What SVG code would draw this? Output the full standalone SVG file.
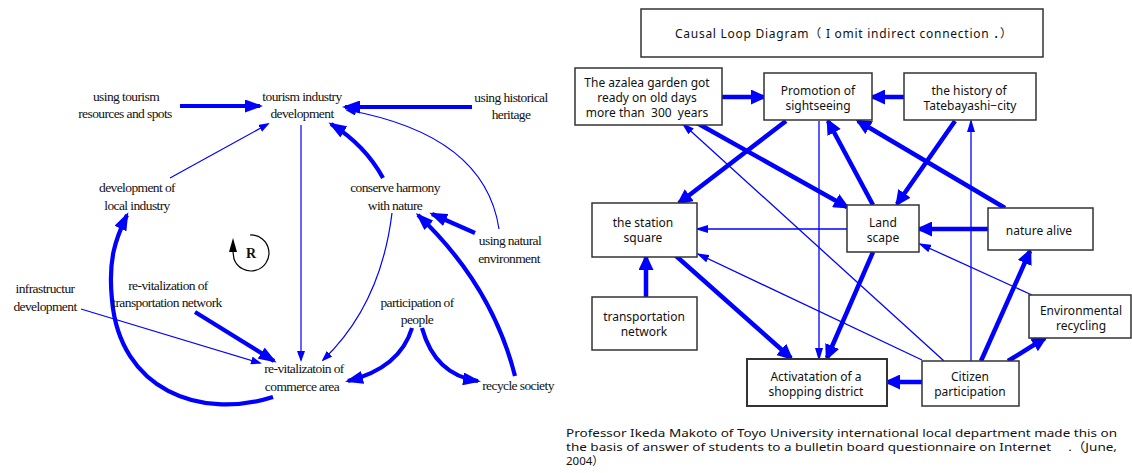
<svg xmlns="http://www.w3.org/2000/svg" width="1132" height="473" viewBox="0 0 1132 473">
<style>
.lt{font-family:"Liberation Serif","Times New Roman",serif;font-size:13.5px;letter-spacing:-0.6px;fill:#111;text-anchor:middle}
.rt{font-family:"Noto Sans","Noto Sans CJK JP",sans-serif;font-size:12px;fill:#111;text-anchor:middle}
.ft{font-family:"Noto Sans","Noto Sans CJK JP",sans-serif;font-size:11.5px;fill:#111}
.box{fill:#fff;stroke:#333;stroke-width:1.5}
.lk{fill:none;stroke:#0000ff;stroke-width:4.2}
.ln{fill:none;stroke:#0000ff;stroke-width:1.2}
.rk{fill:none;stroke:#0000ff;stroke-width:4.5}
.rn{fill:none;stroke:#0000ff;stroke-width:1.3}
</style>
<defs>
<marker id="lK" markerUnits="userSpaceOnUse" markerWidth="18" markerHeight="13" refX="15" refY="6.5" orient="auto"><polygon points="0,0 18,6.5 0,13" fill="#0000ff"/></marker>
<marker id="lN" markerUnits="userSpaceOnUse" markerWidth="11" markerHeight="8" refX="9" refY="4" orient="auto"><polygon points="0,0 11,4 0,8" fill="#0000ff"/></marker>
<marker id="rK" markerUnits="userSpaceOnUse" markerWidth="16" markerHeight="15" refX="13" refY="7.5" orient="auto"><polygon points="0,0 16,7.5 0,15" fill="#0000ff"/></marker>
<marker id="rN" markerUnits="userSpaceOnUse" markerWidth="13" markerHeight="8" refX="11" refY="4" orient="auto"><polygon points="0,0 13,4 0,8" fill="#0000ff"/></marker>
</defs>

<!-- LEFT DIAGRAM connectors -->
<g id="left-connectors">
<path class="lk" d="M180,106 L260,106" marker-end="url(#lK)"/>
<path class="ln" d="M170,178 L268,124" marker-end="url(#lN)"/>
<path class="lk" d="M472,107 L345,107" marker-end="url(#lK)"/>
<path class="ln" d="M499,229 Q485,135 347,110" marker-end="url(#lN)"/>
<path class="lk" d="M383,178 Q365,145 331,124" marker-end="url(#lK)"/>
<path class="ln" d="M301,125 L301,360" marker-end="url(#lN)"/>
<path class="ln" d="M392,213 C385,270 365,320 323,360" marker-end="url(#lN)"/>
<path class="lk" d="M475,233 L432,214" marker-end="url(#lK)"/>
<path class="lk" d="M515,376 Q492,285 418,215" marker-end="url(#lK)"/>
<path class="lk" d="M412,328 Q400,368 348,381" marker-end="url(#lK)"/>
<path class="lk" d="M422,328 Q435,375 478,381" marker-end="url(#lK)"/>
<path class="lk" d="M195,312 L274,361" marker-end="url(#lK)"/>
<path class="ln" d="M81,309 L260,363" marker-end="url(#lN)"/>
<path class="lk" d="M273,397 C200,420 120,390 112,300 C108,260 115,240 127,215" marker-end="url(#lK)"/>
</g>

<!-- LEFT DIAGRAM nodes -->
<g id="l-using-tourism"><text class="lt" x="126" y="101">using tourism</text><text class="lt" x="125" y="118">resources and spots</text></g>
<g id="l-tourism-industry"><text class="lt" x="302" y="101">tourism industry</text><text class="lt" x="302" y="118">development</text></g>
<g id="l-using-historical"><text class="lt" x="511" y="102">using historical</text><text class="lt" x="511" y="119">heritage</text></g>
<g id="l-local-industry"><text class="lt" x="137" y="192">development of</text><text class="lt" x="137" y="210">local industry</text></g>
<g id="l-conserve"><text class="lt" x="395" y="192">conserve harmony</text><text class="lt" x="395" y="210">with nature</text></g>
<g id="l-natural-env"><text class="lt" x="510" y="245">using natural</text><text class="lt" x="509" y="263">environment</text></g>
<g id="l-infra"><text class="lt" x="45" y="293">infrastructur</text><text class="lt" x="45" y="311">development</text></g>
<g id="l-transport"><text class="lt" x="168" y="290">re-vitalization of</text><text class="lt" x="167" y="307">transportation network</text></g>
<g id="l-participation"><text class="lt" x="417" y="307">participation of</text><text class="lt" x="417" y="324">people</text></g>
<g id="l-commerce"><text class="lt" x="304" y="373">re-vitalizatoin of</text><text class="lt" x="302" y="391">commerce area</text></g>
<g id="l-recycle"><text class="lt" x="518" y="390">recycle society</text></g>
<g id="l-loop-R">
<path d="M250,235 A18,18 0 1,1 234,259 L233,252" fill="none" stroke="#000" stroke-width="1.2"/>
<polygon points="233,238 229,252 237,252" fill="#000"/>
<text x="251" y="258" style="font-family:'Liberation Serif',serif;font-size:14px;font-weight:bold;fill:#111;text-anchor:middle">R</text>
</g>

<!-- RIGHT DIAGRAM connectors -->
<g id="right-connectors">
<path class="rk" d="M722,97 L764,97" marker-end="url(#rK)"/>
<path class="rk" d="M904,97 L872,97" marker-end="url(#rK)"/>
<path class="rk" d="M786,121 L679,203" marker-end="url(#rK)"/>
<path class="rk" d="M697,123 L847,207" marker-end="url(#rK)"/>
<path class="rk" d="M873,205 L828,121" marker-end="url(#rK)"/>
<path class="rk" d="M955,121 L897,204" marker-end="url(#rK)"/>
<path class="rk" d="M1005,208 L858,121" marker-end="url(#rK)"/>
<path class="rk" d="M988,229 L919,229" marker-end="url(#rK)"/>
<path class="rn" d="M847,229 L697,229" marker-end="url(#rN)"/>
<path class="rn" d="M819,121 L819,359" marker-end="url(#rN)"/>
<path class="rk" d="M873,252 L827,358" marker-end="url(#rK)"/>
<path class="rk" d="M675,255 L791,358" marker-end="url(#rK)"/>
<path class="rk" d="M646,297 L646,257" marker-end="url(#rK)"/>
<path class="rk" d="M922,382 L887,382" marker-end="url(#rK)"/>
<path class="rn" d="M944,361 L683,124" marker-end="url(#rN)"/>
<path class="rn" d="M922,360 L698,254" marker-end="url(#rN)"/>
<path class="rn" d="M971,361 L971,121" marker-end="url(#rN)"/>
<path class="rk" d="M981,361 L1030,251" marker-end="url(#rK)"/>
<path class="rk" d="M1008,361 L1045,338" marker-end="url(#rK)"/>
<path class="rn" d="M1032,295 L920,244" marker-end="url(#rN)"/>
</g>

<!-- RIGHT DIAGRAM nodes -->
<g id="r-title"><rect class="box" x="641" y="9" width="402" height="48"/><text class="rt" x="675" y="38" style="text-anchor:start" textLength="337" lengthAdjust="spacing">Causal Loop Diagram（ I omit indirect connection ．）</text></g>
<g id="r-azalea"><rect class="box" x="575" y="68" width="147" height="57"/><text class="rt" x="647" y="87">The azalea garden got</text><text class="rt" x="647" y="102">ready on old days</text><text class="rt" x="647" y="117" xml:space="preserve">more than  300  years</text></g>
<g id="r-promotion"><rect class="box" x="764" y="73" width="108" height="47"/><text class="rt" x="818" y="95">Promotion of</text><text class="rt" x="818" y="110">sightseeing</text></g>
<g id="r-history"><rect class="box" x="904" y="73" width="132" height="47"/><text class="rt" x="969" y="95">the history of</text><text class="rt" x="970" y="110">Tatebayashi−city</text></g>
<g id="r-station"><rect class="box" x="592" y="203" width="105" height="54"/><text class="rt" x="643" y="227">the station</text><text class="rt" x="643" y="242">square</text></g>
<g id="r-transport"><rect class="box" x="592" y="297" width="105" height="53"/><text class="rt" x="644" y="321">transportation</text><text class="rt" x="644" y="336">network</text></g>
<g id="r-landscape"><rect class="box" x="847" y="205" width="72" height="47"/><text class="rt" x="883" y="227">Land</text><text class="rt" x="883" y="242">scape</text></g>
<g id="r-nature"><rect class="box" x="988" y="208" width="105" height="42"/><text class="rt" x="1039" y="235">nature alive</text></g>
<g id="r-env"><rect class="box" x="1029" y="295" width="102" height="43"/><text class="rt" x="1081" y="315">Environmental</text><text class="rt" x="1081" y="330">recycling</text></g>
<g id="r-citizen"><rect class="box" x="922" y="361" width="97" height="45"/><text class="rt" x="970" y="381">Citizen</text><text class="rt" x="970" y="396">participation</text></g>
<g id="r-shopping"><rect class="box" x="747" y="359" width="140" height="47" style="stroke-width:2"/><text class="rt" x="816" y="381">Activatation of a</text><text class="rt" x="816" y="396">shopping district</text></g>

<g id="footnote">
<text class="ft" x="566" y="437" textLength="551" lengthAdjust="spacingAndGlyphs">Professor Ikeda Makoto of Toyo University international local department made this on</text>
<text class="ft" x="566" y="451" textLength="551" lengthAdjust="spacingAndGlyphs" xml:space="preserve">the basis of answer of students to a bulletin board questionnaire on Internet　 .（June,</text>
<text class="ft" x="566" y="465">2004）</text>
</g>
</svg>
